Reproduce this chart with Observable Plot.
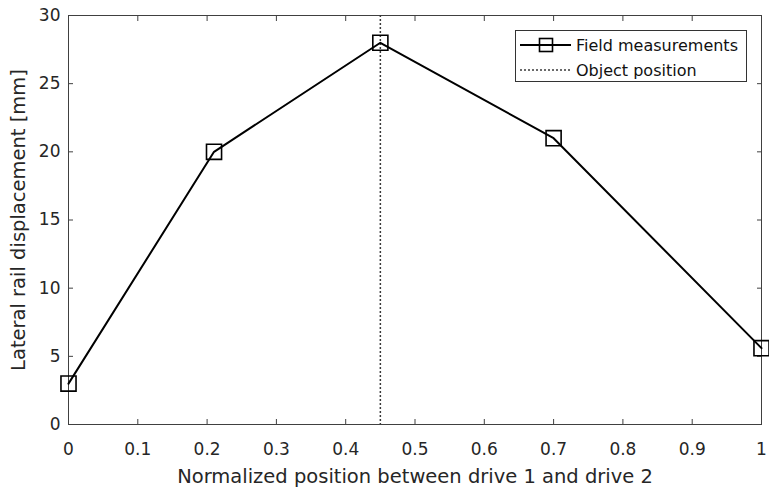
<!DOCTYPE html>
<html><head><meta charset="utf-8">
<script src="https://cdn.jsdelivr.net/npm/d3@7"></script>
<script src="https://cdn.jsdelivr.net/npm/@observablehq/plot@0.6"></script>
<style>
body{margin:0;background:#fff;font-family:"DejaVu Sans",sans-serif;}
#wrap{position:relative;width:769px;height:490px;}
#legend{position:absolute;left:515px;top:30px;width:232px;height:52px;border:1px solid #333;background:#fff;box-sizing:border-box;}
.row{position:absolute;left:4px;height:20px;display:flex;align-items:center;font-size:16px;color:#111;white-space:nowrap;}
.row svg{margin-right:4px;}
</style>
</head><body>
<div id="wrap"></div>
<script>
const positions = [0, 0.21, 0.45, 0.7, 1];
const displacement = [3, 20, 28, 21, 5.6];
const objectPosition = [0.45];
const xTicks = [0, 0.1, 0.2, 0.3, 0.4, 0.5, 0.6, 0.7, 0.8, 0.9, 1];
const xTickLabels = ["0", "0.1", "0.2", "0.3", "0.4", "0.5", "0.6", "0.7", "0.8", "0.9", "1"];
const yTicks = [0, 5, 10, 15, 20, 25, 30];
const yTickLabels = ["0", "5", "10", "15", "20", "25", "30"];
const xLabel = "Normalized position between drive 1 and drive 2";
const yLabel = "Lateral rail displacement [mm]";
const seriesNames = ["Field measurements", "Object position"];

const data = positions.map((p, i) => ({x: p, y: displacement[i]}));

const chart = Plot.plot({
  width: 769, height: 490,
  marginLeft: 68, marginRight: 8, marginTop: 15, marginBottom: 66,
  x: {domain: [0, 1]},
  y: {domain: [0, 30]},
  style: {fontFamily: "DejaVu Sans", fontSize: "17px", color: "#262626", background: "white"},
  marks: [
    Plot.frame({stroke: "#404040"}),
    Plot.axisX({anchor: "bottom", ticks: xTicks, tickFormat: d => xTickLabels[xTicks.indexOf(d)], tickSize: -5, tickPadding: 23, label: null, stroke: "#404040", fontSize: 17}),
    Plot.axisX({anchor: "top", ticks: xTicks, tickFormat: () => "", tickSize: -5, label: null, stroke: "#404040"}),
    Plot.axisY({anchor: "left", ticks: yTicks, tickFormat: d => yTickLabels[yTicks.indexOf(d)], tickSize: -5, tickPadding: 13, label: null, stroke: "#404040", fontSize: 17}),
    Plot.axisY({anchor: "right", ticks: yTicks, tickFormat: () => "", tickSize: -5, label: null, stroke: "#404040"}),
    Plot.ruleX(objectPosition, {stroke: "#3a3a3a", strokeWidth: 1.5, strokeDasharray: "2,2"}),
    Plot.line(data, {x: "x", y: "y", stroke: "black", strokeWidth: 2}),
    Plot.dot(data, {x: "x", y: "y", symbol: "square", r: 8.5, stroke: "black", strokeWidth: 1.6, fill: "none"}),
    Plot.text([xLabel], {frameAnchor: "bottom", dy: 52, fontSize: 19.5, fill: "#262626", lineAnchor: "middle", textAnchor: "middle"}),
    Plot.text([yLabel], {frameAnchor: "left", dx: -50, rotate: -90, fontSize: 19.5, fill: "#262626", lineAnchor: "middle", textAnchor: "middle"})
  ]
});
const wrap = document.getElementById("wrap");
wrap.appendChild(chart);

const legend = document.createElement("div");
legend.id = "legend";
legend.innerHTML = `
<div class="row" style="top:4px"><svg width="52" height="16"><line x1="0" y1="8" x2="51" y2="8" stroke="black" stroke-width="2"/><rect x="19.5" y="1.5" width="13" height="13" fill="none" stroke="black" stroke-width="1.6"/></svg><span>${seriesNames[0]}</span></div>
<div class="row" style="top:29px"><svg width="52" height="16"><line x1="0" y1="8" x2="51" y2="8" stroke="#3a3a3a" stroke-width="1.5" stroke-dasharray="2,2"/></svg><span>${seriesNames[1]}</span></div>`;
wrap.appendChild(legend);
</script>
</body></html>
